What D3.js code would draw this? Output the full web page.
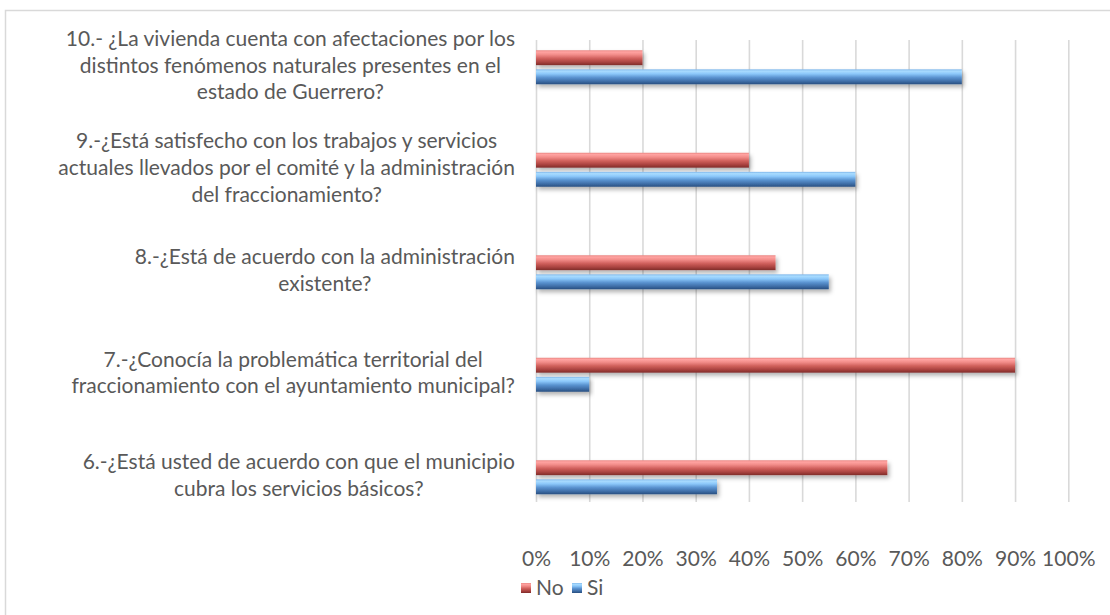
<!DOCTYPE html>
<html>
<head>
<meta charset="utf-8">
<script src="https://cdn.jsdelivr.net/npm/d3@7"></script>
<style>
  html, body { margin: 0; padding: 0; background: #fff; }
  svg { display: block; }
</style>
</head>
<body>
<svg id="chart" width="1110" height="615"></svg>
<script>
// ---- data ----
const questionIds = ["q10", "q9", "q8", "q7", "q6"];
const questionLines = [
  ["10.- ¿La vivienda cuenta con afectaciones por los", "distintos fenómenos naturales presentes en el", "estado de Guerrero?"],
  ["9.-¿Está satisfecho con los trabajos y servicios", "actuales llevados por el comité y la administración", "del fraccionamiento?"],
  ["8.-¿Está de acuerdo con la administración", "existente?"],
  ["7.-¿Conocía la problemática territorial del", "fraccionamiento con el ayuntamiento municipal?"],
  ["6.-¿Está usted de acuerdo con que el municipio", "cubra los servicios básicos?"]
];
const seriesNames = ["No", "Si"];
const noValues = [20, 40, 45, 90, 66];
const siValues = [80, 60, 55, 10, 34];
const tickValues = [0, 10, 20, 30, 40, 50, 60, 70, 80, 90, 100];

// ---- setup ----
const svg = d3.select("#chart");
const textColor = "#595959";
const fontFamily = "Lato, 'Open Sans', 'Liberation Sans', sans-serif";

// pick font size so widest label line fits reference width
const probe = svg.append("text").attr("font-family", fontFamily).attr("font-size", 20)
  .text(questionLines[0][0]);
const probeW = probe.node().getComputedTextLength();
probe.remove();
const fontSize = Math.min(21, Math.max(15, 20 * 476 / probeW));

// chart border
svg.append("rect")
  .attr("x", 5.5).attr("y", 10.5).attr("width", 1120).attr("height", 620)
  .attr("fill", "none").attr("stroke", "#d9d9d9").attr("stroke-width", 1.5);

const defs = svg.append("defs");
function grad(id, stops) {
  const g = defs.append("linearGradient").attr("id", id)
    .attr("x1", 0).attr("y1", 0).attr("x2", 0).attr("y2", 1);
  stops.forEach(s => g.append("stop").attr("offset", s[0]).attr("stop-color", s[1]));
}
grad("gNo", [["0%", "#e98683"], ["12%", "#ffa3a1"], ["30%", "#f28c89"], ["55%", "#d0605c"], ["80%", "#a9423f"], ["100%", "#7f2b29"]]);
grad("gSi", [["0%", "#7fb6ea"], ["12%", "#a9dcff"], ["30%", "#8cc8fa"], ["55%", "#5a93d0"], ["80%", "#3f6ea7"], ["100%", "#284f80"]]);
const shadow = defs.append("filter").attr("id", "shadow")
  .attr("x", "-5%").attr("y", "-40%").attr("width", "115%").attr("height", "200%");
shadow.append("feDropShadow").attr("dx", 2).attr("dy", 3).attr("stdDeviation", 2.2)
  .attr("flood-color", "#000").attr("flood-opacity", 0.3);

// scales
const x = d3.scaleLinear().domain([0, 100]).range([536, 1068.3]);
const y = d3.scaleBand().domain(questionIds).range([16, 528.5]);
const ySub = d3.scaleBand().domain(seriesNames).range([-17, 17]).paddingInner(0.22);

// gridlines
const gridTop = 40, gridBottom = 502;
const gridAxis = d3.axisBottom(x).tickValues(tickValues).tickSize(-(gridBottom - gridTop)).tickFormat("");
const gg = svg.append("g").attr("transform", `translate(0,${gridBottom})`).call(gridAxis);
gg.select(".domain").remove();
gg.selectAll("line").attr("stroke", "#d9d9d9").attr("stroke-width", 1.6);

// tick labels
const tickAxis = d3.axisBottom(x).tickValues(tickValues).tickSize(0).tickPadding(0)
  .tickFormat(d => d + "%");
const tg = svg.append("g").attr("transform", `translate(0,551)`).call(tickAxis);
tg.select(".domain").remove();
tg.selectAll("text").attr("fill", textColor).attr("font-size", fontSize)
  .attr("font-family", fontFamily).attr("dy", "0.71em");

// bars
const rows = questionIds.map((id, i) => ({ id, No: noValues[i], Si: siValues[i] }));
const barG = svg.append("g");
rows.forEach(r => {
  const cy = y(r.id) + y.bandwidth() / 2;
  seriesNames.forEach(s => {
    barG.append("rect")
      .attr("x", x(0))
      .attr("y", cy + ySub(s))
      .attr("width", x(r[s]) - x(0))
      .attr("height", ySub.bandwidth())
      .attr("fill", s === "No" ? "url(#gNo)" : "url(#gSi)")
      .attr("filter", "url(#shadow)");
  });
});

// category labels (centered lines in a block right-aligned at x=515)
const lineH = 26.7;
const labelRight = 515;
questionIds.forEach((id, i) => {
  const lines = questionLines[i];
  const cy = y(id) + y.bandwidth() / 2 - 2;
  const g = svg.append("g");
  const texts = lines.map((ln, j) => g.append("text")
    .attr("font-family", fontFamily).attr("font-size", fontSize).attr("fill", textColor)
    .attr("text-anchor", "middle")
    .attr("y", cy + (j - (lines.length - 1) / 2) * lineH)
    .attr("dy", "0.35em")
    .text(ln));
  const maxW = d3.max(texts, t => t.node().getComputedTextLength());
  texts.forEach(t => t.attr("x", labelRight - maxW / 2));
});

// legend
const legendY = 588;
const legend = [{ name: "No", fill: "url(#gNo)", x: 521 }, { name: "Si", fill: "url(#gSi)", x: 572 }];
legend.forEach(l => {
  svg.append("rect").attr("x", l.x).attr("y", legendY - 5).attr("width", 10).attr("height", 10)
    .attr("fill", l.fill);
  svg.append("text").attr("x", l.x + 15).attr("y", legendY).attr("dy", "0.35em")
    .attr("font-family", fontFamily).attr("font-size", fontSize).attr("fill", textColor)
    .text(l.name);
});
</script>
</body>
</html>
